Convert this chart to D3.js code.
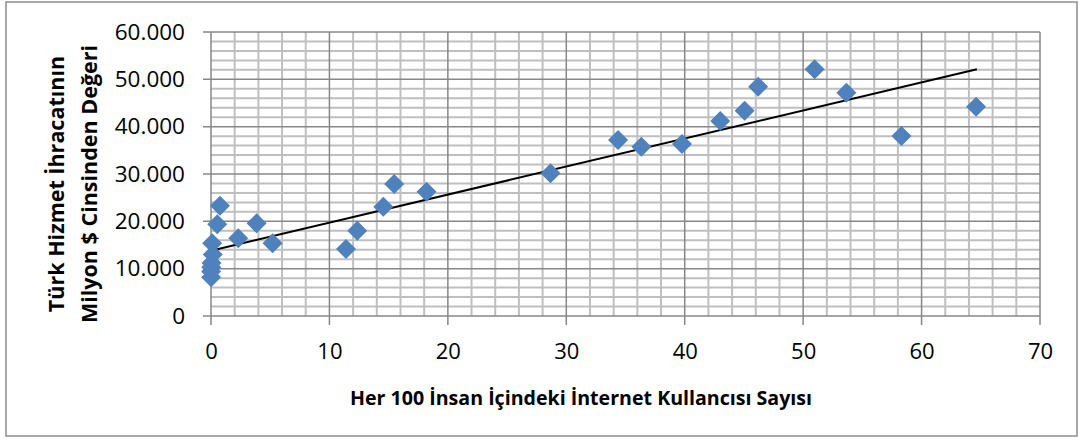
<!DOCTYPE html>
<html>
<head>
<meta charset="utf-8">
<script src="https://cdn.jsdelivr.net/npm/d3@7"></script>
<style>
  html, body { margin: 0; padding: 0; background: #fff; }
  svg { display: block; }
  text { font-family: "Open Sans", "Liberation Sans", sans-serif; fill: #000; }
</style>
</head>
<body>
<svg id="chart" width="1082" height="441"></svg>
<script>
// ---- data ----
const internetUsers = [0.76, 0.53, 0.1, 0.15, 0.05, 0.02, 0.01, 0.01, 2.3, 3.85, 5.2,
  11.4, 12.35, 14.55, 15.47, 18.2, 28.67, 34.37, 36.34, 39.77,
  43.0, 45.06, 46.2, 50.97, 53.65, 58.3, 64.6];
const serviceExports = [23300, 19370, 15360, 13000, 11200, 10300, 9400, 8200, 16400, 19580, 15360,
  14160, 18020, 23100, 27890, 26270, 30150, 37190, 35770, 36340,
  41200, 43380, 48450, 52120, 47180, 38030, 44220];
const trendX = [0, 64.67];
const trendY = [13800, 52120];
const xTicks = [0, 10, 20, 30, 40, 50, 60, 70];
const yTicks = [0, 10000, 20000, 30000, 40000, 50000, 60000];
const yTickLabels = ["0", "10.000", "20.000", "30.000", "40.000", "50.000", "60.000"];
const xTitle = "Her 100 İnsan İçindeki İnternet Kullancısı Sayısı";
const yTitle = ["Türk Hizmet İhracatının", "Milyon $ Cinsinden Değeri"];

const svg = d3.select("#chart");
const pLeft = 211, pRight = 1040, pTop = 32, pBottom = 316;

const x = d3.scaleLinear().domain([0, 70]).range([pLeft, pRight]);
const y = d3.scaleLinear().domain([0, 60000]).range([pBottom, pTop]);

// outer border
svg.append("rect").attr("x", 6).attr("y", 2).attr("width", 1071).attr("height", 434)
  .attr("fill", "#fff").attr("stroke", "#8c8c8c").attr("stroke-width", 1.5);

const grid = svg.append("g");
const xMinor = d3.range(0, 70.001, 2).filter(v => v % 10 !== 0);
const yMinor = d3.range(0, 60001, 2000).filter(v => v % 10000 !== 0);
grid.selectAll(".vm").data(xMinor).join("line")
  .attr("x1", d => x(d)).attr("x2", d => x(d)).attr("y1", pTop).attr("y2", pBottom)
  .attr("stroke", "#bfbfbf").attr("stroke-width", 2);
grid.selectAll(".hm").data(yMinor).join("line")
  .attr("x1", pLeft).attr("x2", pRight).attr("y1", d => y(d)).attr("y2", d => y(d))
  .attr("stroke", "#bfbfbf").attr("stroke-width", 2);
// major gridlines
grid.selectAll(".vM").data(xTicks).join("line")
  .attr("x1", d => x(d)).attr("x2", d => x(d)).attr("y1", pTop).attr("y2", pBottom + 9)
  .attr("stroke", "#878787").attr("stroke-width", 1.5);
grid.selectAll(".hM").data(yTicks).join("line")
  .attr("x1", pLeft - 8).attr("x2", pRight).attr("y1", d => y(d)).attr("y2", d => y(d))
  .attr("stroke", "#878787").attr("stroke-width", 1.5);

// tick labels via axes
const yAxis = d3.axisLeft(y).tickValues(yTicks).tickFormat((d, i) => yTickLabels[i]).tickSize(0).tickPadding(26);
const gy = svg.append("g").attr("transform", `translate(${pLeft},0)`).call(yAxis);
gy.select(".domain").remove();
gy.selectAll("text").style("font-size", "22.5px").style("font-family", "Open Sans").attr("fill", "#000");

const xAxis = d3.axisBottom(x).tickValues(xTicks).tickFormat(d3.format("d")).tickSize(0).tickPadding(27);
const gx = svg.append("g").attr("transform", `translate(0,${pBottom})`).call(xAxis);
gx.select(".domain").remove();
gx.selectAll("text").style("font-size", "22px").style("font-family", "Open Sans").attr("fill", "#000");

// trend line
svg.append("line")
  .attr("x1", x(trendX[0])).attr("y1", y(trendY[0]))
  .attr("x2", x(trendX[1])).attr("y2", y(trendY[1]))
  .attr("stroke", "#000").attr("stroke-width", 2);

// points (diamonds)
const pts = internetUsers.map((v, i) => [v, serviceExports[i]]);
const sym = d3.symbol().type(d3.symbolSquare).size(200);
svg.append("g").selectAll("path").data(pts).join("path")
  .attr("d", sym)
  .attr("transform", d => `translate(${x(d[0])},${y(d[1])}) rotate(45)`)
  .attr("fill", "#4f81bd");

// axis titles
svg.append("text").attr("x", 581).attr("y", 405).attr("text-anchor", "middle")
  .style("font-size", "19.6px").style("font-weight", "bold").text(xTitle);

const yt = svg.append("text").attr("transform", "translate(0,184) rotate(-90)")
  .attr("text-anchor", "middle").style("font-size", "21.5px").style("font-weight", "bold");
yt.append("tspan").attr("x", 0).attr("y", 64).text(yTitle[0]);
yt.append("tspan").attr("x", 0).attr("y", 97).text(yTitle[1]);
</script>
</body>
</html>
